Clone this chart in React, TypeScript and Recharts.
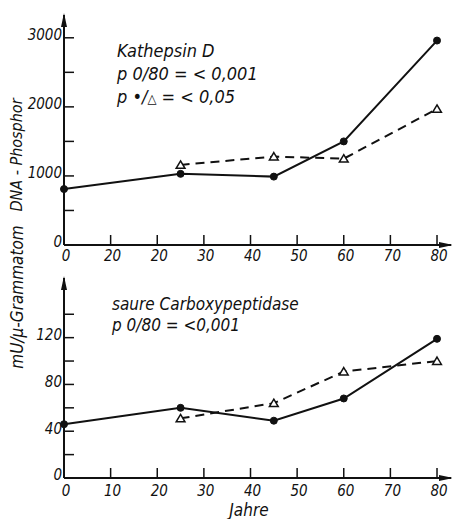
import { LineChart, Line, XAxis, YAxis } from "recharts";

const ages = [0, 25, 45, 60, 80];

// Kathepsin D (DNA-Phosphor)
const kathepsinDots = [810, 1030, 990, 1500, 2960];
const kathepsinTriangles = [null, 1160, 1280, 1250, 1970];

// saure Carboxypeptidase
const carboxyDots = [46, 60, 49, 68, 119];
const carboxyTriangles = [null, 51, 64, 91, 100];

const xTicks = [0, 10, 20, 30, 40, 50, 60, 70, 80];
const topXLabels = ["0", "20", "20", "30", "40", "50", "60", "70", "80"];
const bottomXLabels = ["0", "10", "20", "30", "40", "50", "60", "70", "80"];

const topYTicks = [0, 500, 1000, 1500, 2000, 2500, 3000];
const topYLabeled = [0, 1000, 2000, 3000];
const bottomYTicks = [0, 20, 40, 60, 80, 100, 120, 140];
const bottomYLabeled = [0, 40, 80, 120];

const topRows = ages.map((age, i) => ({ age, dots: kathepsinDots[i], tri: kathepsinTriangles[i] }));
const bottomRows = ages.map((age, i) => ({ age, dots: carboxyDots[i], tri: carboxyTriangles[i] }));

const FONT = '"DejaVu Sans Condensed", "Liberation Sans Narrow", "DejaVu Sans", sans-serif';
const INK = "#111";

const tickStyle = { fill: INK, fontSize: 15, fontStyle: "italic", fontFamily: FONT };

function TriangleDot(props: any) {
  const { cx, cy, value, index } = props;
  if (cx == null || cy == null || value == null) return <g key={`t-${index}`} />;
  const s = 4;
  return (
    <path
      key={`t-${index}`}
      d={`M${cx},${cy - s} L${cx + s * 1.1},${cy + s * 0.85} L${cx - s * 1.1},${cy + s * 0.85} Z`}
      fill="#fff"
      stroke={INK}
      strokeWidth={1.5}
    />
  );
}

function Panel(props: {
  rows: any[];
  height: number;
  top: number;
  xHeight: number;
  yMax: number;
  yTicks: number[];
  yLabeled: number[];
  xLabels: string[];
  xMargin: number;
}) {
  const { rows, height, top, xHeight, yMax, yTicks, yLabeled, xLabels, xMargin } = props;
  return (
    <LineChart width={452} height={height} data={rows} margin={{ top, right: 1, left: 14, bottom: 0 }}>
      <XAxis
        dataKey="age"
        type="number"
        domain={[0, 83]}
        ticks={xTicks}
        interval={0}
        height={xHeight}
        tickSize={-10}
        tickMargin={xMargin}
        tick={{ ...tickStyle, dx: 2 }}
        tickFormatter={(v: number) => xLabels[xTicks.indexOf(v)] ?? ""}
        axisLine={{ stroke: INK, strokeWidth: 2, markerEnd: "url(#axisArrow)" }}
        tickLine={{ stroke: INK, strokeWidth: 1.5 }}
      />
      <YAxis
        type="number"
        domain={[0, yMax]}
        ticks={yTicks}
        interval={0}
        width={50}
        tickSize={-10}
        tickMargin={12}
        tick={{ ...tickStyle, dy: -3 }}
        tickFormatter={(v: number) => (yLabeled.includes(v) ? String(v) : "")}
        axisLine={{ stroke: INK, strokeWidth: 2, markerStart: "url(#axisArrowStart)" }}
        tickLine={{ stroke: INK, strokeWidth: 1.5 }}
      />
      <Line
        type="linear"
        dataKey="dots"
        stroke={INK}
        strokeWidth={2}
        dot={{ r: 3.5, fill: INK, stroke: INK, strokeWidth: 1 }}
        isAnimationActive={false}
      />
      <Line
        type="linear"
        dataKey="tri"
        stroke={INK}
        strokeWidth={2}
        strokeDasharray="9 6"
        dot={(p: any) => <TriangleDot {...p} />}
        isAnimationActive={false}
      />
    </LineChart>
  );
}

const textStyle: any = {
  position: "absolute",
  fontFamily: FONT,
  fontStyle: "italic",
  color: INK,
  whiteSpace: "nowrap",
  lineHeight: 1,
};

export default function App() {
  return (
    <div style={{ position: "absolute", left: 0, top: 0, width: 452, height: 519, background: "#fff", overflow: "hidden" }}>
      <svg width={0} height={0} style={{ position: "absolute" }}>
        <defs>
          <marker id="axisArrow" viewBox="0 0 14 6" refX={12} refY={3} markerWidth={14} markerHeight={6} markerUnits="userSpaceOnUse" orient="auto">
            <path d="M0,0 L14,3 L0,6 Z" fill={INK} />
          </marker>
          <marker id="axisArrowStart" viewBox="0 0 14 6" refX={12} refY={3} markerWidth={14} markerHeight={6} markerUnits="userSpaceOnUse" orient="auto-start-reverse">
            <path d="M0,0 L14,3 L0,6 Z" fill={INK} />
          </marker>
        </defs>
      </svg>

      <div style={{ position: "absolute", left: 0, top: 0 }}>
        <Panel rows={topRows} height={268} top={15} xHeight={23} yMax={3330} yTicks={topYTicks} yLabeled={topYLabeled} xLabels={topXLabels} xMargin={15} />
      </div>
      <div style={{ position: "absolute", left: 0, top: 268 }}>
        <Panel rows={bottomRows} height={251} top={10} xHeight={41} yMax={171} yTicks={bottomYTicks} yLabeled={bottomYLabeled} xLabels={bottomXLabels} xMargin={17} />
      </div>

      <div style={{ ...textStyle, left: 117, top: 42, fontSize: 18 }}>Kathepsin D</div>
      <div style={{ ...textStyle, left: 117, top: 65, fontSize: 18 }}>p 0/80 = &lt; 0,001</div>
      <div style={{ ...textStyle, left: 117, top: 88, fontSize: 18 }}>
        p <span style={{ fontStyle: "normal" }}>•</span>/<span style={{ fontSize: 13, fontStyle: "normal" }}>△</span> = &lt; 0,05
      </div>

      <div style={{ ...textStyle, left: 112, top: 296, fontSize: 17 }}>saure Carboxypeptidase</div>
      <div style={{ ...textStyle, left: 112, top: 317, fontSize: 17 }}>p 0/80 = &lt;0,001</div>

      <div style={{ ...textStyle, left: 17, top: 155, fontSize: 16, transform: "translate(-50%, -50%) rotate(-90deg)" }}>DNA - Phosphor</div>
      <div style={{ ...textStyle, left: 17, top: 297, fontSize: 17, transform: "translate(-50%, -50%) rotate(-90deg)" }}>mU/μ-Grammatom</div>

      <div style={{ ...textStyle, left: 249, top: 510, fontSize: 17, transform: "translate(-50%, -50%)" }}>Jahre</div>
    </div>
  );
}
